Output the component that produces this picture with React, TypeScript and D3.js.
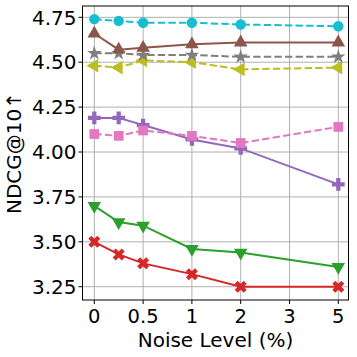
import React, { useRef, useEffect } from 'react';
import * as d3 from 'd3';

const noise = [0, 0.25, 0.5, 1, 2, 5];
const xTicks = [0, 0.5, 1, 2, 3, 5];
const yTicks = [3.25, 3.5, 3.75, 4.0, 4.25, 4.5, 4.75];

const cyanVals = [4.74, 4.73, 4.72, 4.72, 4.71, 4.70];
const brownVals = [4.66, 4.57, 4.58, 4.6, 4.61, 4.61];
const grayVals = [4.55, 4.55, 4.54, 4.54, 4.53, 4.53];
const oliveVals = [4.48, 4.47, 4.51, 4.5, 4.46, 4.47];
const purpleVals = [4.19, 4.19, 4.15, 4.07, 4.02, 3.82];
const pinkVals = [4.1, 4.09, 4.12, 4.09, 4.05, 4.14];
const greenVals = [3.7, 3.61, 3.59, 3.46, 3.44, 3.36];
const redVals = [3.5, 3.43, 3.38, 3.32, 3.25, 3.25];

const series = [
  { vals: redVals, color: '#d62728', dashed: false, marker: 'X' },
  { vals: greenVals, color: '#2ca02c', dashed: false, marker: 'v' },
  { vals: purpleVals, color: '#9467bd', dashed: false, marker: 'P' },
  { vals: pinkVals, color: '#e377c2', dashed: true, marker: 's' },
  { vals: oliveVals, color: '#bcbd22', dashed: true, marker: '<' },
  { vals: grayVals, color: '#7f7f7f', dashed: true, marker: '*' },
  { vals: brownVals, color: '#8c564b', dashed: false, marker: '^' },
  { vals: cyanVals, color: '#17becf', dashed: true, marker: 'o' },
];

function markerPath(m: string) {
  // returns [path, rotation]
  switch (m) {
    case 'o':
      return [d3.symbol(d3.symbolCircle, 85)()!, 0];
    case 's':
      return [d3.symbol(d3.symbolSquare, 95)()!, 0];
    case '^':
      return [d3.symbol(d3.symbolTriangle, 80)()!, 0];
    case 'v':
      return [d3.symbol(d3.symbolTriangle, 80)()!, 180];
    case '<':
      return [d3.symbol(d3.symbolTriangle, 80)()!, -90];
    case '*':
      return [d3.symbol(d3.symbolStar, 65)()!, 0];
    case 'P':
      return [d3.symbol(d3.symbolCross, 90)()!, 0];
    default:
      return [d3.symbol(d3.symbolCross, 90)()!, 45];
  }
}

export default function App() {
  const svgRef = useRef<SVGSVGElement>(null);

  useEffect(() => {
    const svg = d3.select(svgRef.current);
    svg.selectAll('*').remove();

    const left = 82.5;
    const right = 348.5;
    const top = 6;
    const bottom = 300;

    // piecewise x scale: ticks equally spaced
    const step = 48.8;
    const x0 = 94.3;
    const x = d3
      .scaleLinear()
      .domain(xTicks)
      .range(xTicks.map((_, i) => x0 + i * step));
    const y = d3.scaleLinear().domain([3.176, 4.813]).range([bottom, top]);

    const g = svg.append('g');

    // grid
    g.selectAll('.gx')
      .data(xTicks)
      .enter()
      .append('line')
      .attr('x1', (d) => x(d))
      .attr('x2', (d) => x(d))
      .attr('y1', top)
      .attr('y2', bottom)
      .attr('stroke', '#b0b0b0')
      .attr('stroke-width', 1);
    g.selectAll('.gy')
      .data(yTicks)
      .enter()
      .append('line')
      .attr('x1', left)
      .attr('x2', right)
      .attr('y1', (d) => y(d))
      .attr('y2', (d) => y(d))
      .attr('stroke', '#b0b0b0')
      .attr('stroke-width', 1);

    const line = d3
      .line<number>()
      .x((_, i) => x(noise[i]))
      .y((d) => y(d));

    series.forEach((s) => {
      g.append('path')
        .datum(s.vals)
        .attr('d', line)
        .attr('fill', 'none')
        .attr('stroke', s.color)
        .attr('stroke-width', 2)
        .attr('stroke-dasharray', s.dashed ? '7.4,3.2' : null);
      const [p, rot] = markerPath(s.marker) as [string, number];
      g.selectAll(null)
        .data(s.vals)
        .enter()
        .append('path')
        .attr('d', p)
        .attr('fill', s.color)
        .attr('transform', (d, i) => `translate(${x(noise[i])},${y(d)}) rotate(${rot})`);
    });

    // frame
    g.append('rect')
      .attr('x', left)
      .attr('y', top)
      .attr('width', right - left)
      .attr('height', bottom - top)
      .attr('fill', 'none')
      .attr('stroke', '#000')
      .attr('stroke-width', 1);

    const font = 'DejaVu Sans, sans-serif';
    // ticks
    g.selectAll('.tx')
      .data(xTicks)
      .enter()
      .append('line')
      .attr('x1', (d) => x(d))
      .attr('x2', (d) => x(d))
      .attr('y1', bottom)
      .attr('y2', bottom + 4)
      .attr('stroke', '#000');
    g.selectAll('.lx')
      .data(xTicks)
      .enter()
      .append('text')
      .attr('x', (d) => x(d))
      .attr('y', bottom + 23)
      .attr('text-anchor', 'middle')
      .attr('font-family', font)
      .attr('font-size', 19.5)
      .text((d) => String(d));
    g.selectAll('.ty')
      .data(yTicks)
      .enter()
      .append('line')
      .attr('x1', left - 4)
      .attr('x2', left)
      .attr('y1', (d) => y(d))
      .attr('y2', (d) => y(d))
      .attr('stroke', '#000');
    g.selectAll('.ly')
      .data(yTicks)
      .enter()
      .append('text')
      .attr('x', left - 6)
      .attr('y', (d) => y(d))
      .attr('dy', '0.36em')
      .attr('text-anchor', 'end')
      .attr('font-family', font)
      .attr('font-size', 20)
      .text((d) => d.toFixed(2));

    g.append('text')
      .attr('x', (left + right) / 2)
      .attr('y', 347)
      .attr('text-anchor', 'middle')
      .attr('font-family', font)
      .attr('font-size', 20)
      .text('Noise Level (%)');
    g.append('text')
      .attr('transform', `translate(21,${(top + bottom) / 2}) rotate(-90)`)
      .attr('text-anchor', 'middle')
      .attr('font-family', font)
      .attr('font-size', 20)
      .text('NDCG@10↑');
  }, []);

  return (
    <div style={{ position: 'absolute', left: 0, top: 0 }}>
      <svg ref={svgRef} width={357} height={357} style={{ display: 'block' }}></svg>
    </div>
  );
}
